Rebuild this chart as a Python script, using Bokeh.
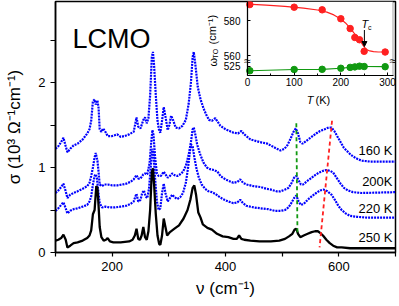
from bokeh.plotting import figure
from bokeh.models import (Range1d, LinearAxis, FixedTicker, BoxAnnotation, Arrow,
                          NormalHead, GlobalInlineStyleSheet)
from bokeh.core.properties import value
from bokeh.embed import file_html
from bokeh.resources import INLINE

FONT = "Liberation Sans"

# ---------------- main spectra data ----------------
nu_160 = [100,105,110,114,118,121,126,132,139,148,156,160,163,166,169,171,174,176,178,181,184,188,192,200,209,215,222,230,238,243,246,250,255,258,261,264,267,270,272,274,277,280,283,285,288,291,294,298,301,304,308,312,318,324,330,335,339,342,344,347,351,356,361,366,371,376,382,387,391,400,414,422,428,433,444,460,474,485,497,504,509,515,520,524,528,532,536,542,550,560,567,575,582,587,592,597,603,609,615,621,630,640,655,700]
s_160 = [1.22,1.25,1.30,1.35,1.25,1.18,1.22,1.26,1.28,1.33,1.40,1.45,1.55,1.78,1.80,1.74,1.79,1.70,1.45,1.42,1.46,1.42,1.37,1.37,1.39,1.36,1.37,1.39,1.42,1.59,1.48,1.46,1.56,1.59,1.52,1.58,1.85,2.30,2.36,2.20,1.85,1.55,1.43,1.41,1.55,1.71,1.60,1.44,1.50,1.61,1.55,1.47,1.46,1.49,1.56,1.75,2.00,2.30,2.36,2.20,1.95,1.80,1.70,1.62,1.56,1.55,1.58,1.53,1.49,1.45,1.41,1.40,1.43,1.39,1.33,1.30,1.28,1.24,1.20,1.22,1.26,1.34,1.42,1.46,1.40,1.30,1.28,1.31,1.35,1.40,1.43,1.45,1.47,1.47,1.43,1.37,1.30,1.23,1.19,1.15,1.11,1.08,1.07,1.07]

nu_200 = [100,105,110,114,118,121,126,132,139,148,156,160,163,166,169,171,174,176,178,182,186,192,200,209,218,225,232,238,243,246,250,255,258,262,266,269,271,273,276,279,282,286,291,295,298,302,306,310,315,320,325,330,335,339,342,344,347,350,355,361,367,373,380,386,391,400,410,414,421,426,431,437,450,462,472,480,490,497,505,511,516,521,525,529,533,537,544,550,558,565,572,578,585,590,596,603,609,616,625,640,700]
s_200 = [0.70,0.73,0.77,0.81,0.72,0.64,0.68,0.70,0.72,0.75,0.78,0.82,0.90,1.00,1.12,1.17,1.08,0.95,0.80,0.78,0.80,0.80,0.79,0.79,0.80,0.81,0.83,0.86,0.91,0.87,0.87,0.92,0.93,0.92,1.05,1.30,1.44,1.38,1.10,0.93,0.90,0.90,0.95,0.91,0.88,0.90,0.93,0.91,0.90,0.92,0.95,1.02,1.15,1.30,1.45,1.47,1.38,1.27,1.16,1.06,1.00,0.98,0.97,0.95,0.90,0.86,0.83,0.82,0.83,0.86,0.82,0.80,0.78,0.77,0.75,0.74,0.72,0.72,0.74,0.76,0.81,0.88,0.90,0.85,0.80,0.80,0.84,0.87,0.91,0.94,0.96,0.97,0.96,0.94,0.88,0.81,0.76,0.73,0.71,0.70,0.71]

nu_220 = [100,105,110,114,118,121,126,132,139,148,156,160,163,166,169,171,173,175,178,182,188,195,205,215,225,232,238,241,243,246,250,253,256,259,262,265,268,271,273,276,279,282,285,288,291,294,298,302,306,310,315,320,325,330,334,337,339,342,345,349,353,358,364,370,376,382,388,395,405,414,421,426,431,437,450,462,475,487,497,505,511,516,521,525,529,533,538,545,552,560,567,573,580,587,593,599,605,612,620,632,650,700]
s_220 = [0.49,0.52,0.56,0.59,0.52,0.46,0.49,0.51,0.52,0.54,0.56,0.60,0.66,0.80,0.90,0.92,0.88,0.75,0.58,0.53,0.54,0.53,0.53,0.54,0.55,0.57,0.60,0.66,0.69,0.60,0.62,0.70,0.73,0.66,0.64,0.75,1.00,1.22,1.15,0.85,0.60,0.50,0.52,0.70,0.81,0.70,0.60,0.64,0.68,0.65,0.63,0.65,0.70,0.82,1.00,1.18,1.27,1.25,1.12,0.98,0.88,0.80,0.75,0.72,0.71,0.69,0.66,0.63,0.60,0.58,0.59,0.62,0.58,0.55,0.53,0.52,0.51,0.49,0.49,0.50,0.53,0.58,0.64,0.67,0.60,0.56,0.57,0.62,0.66,0.70,0.73,0.74,0.72,0.68,0.62,0.55,0.50,0.46,0.43,0.42,0.41,0.41]

nu_250 = [100,105,110,114,118,121,126,132,139,148,156,160,163,166,169,172,174,176,178,181,185,189,192,196,202,215,230,236,240,243,246,249,252,255,258,261,264,267,270,272,274,277,280,283,285,288,291,294,297,302,310,318,326,333,338,342,345,348,352,356,360,368,376,385,395,405,414,420,424,428,433,444,460,480,495,505,512,518,522,525,528,532,538,545,552,558,563,567,572,578,584,590,597,605,620,650,700]
s_250 = [0.14,0.15,0.17,0.21,0.15,0.06,0.08,0.11,0.12,0.14,0.17,0.20,0.26,0.45,0.50,0.78,0.76,0.55,0.30,0.18,0.14,0.15,0.17,0.13,0.12,0.12,0.13,0.15,0.20,0.28,0.16,0.15,0.20,0.30,0.18,0.15,0.25,0.50,0.95,0.99,0.80,0.45,0.20,0.10,0.09,0.20,0.40,0.30,0.20,0.24,0.28,0.32,0.40,0.50,0.62,0.76,0.79,0.68,0.47,0.41,0.33,0.29,0.27,0.22,0.19,0.18,0.16,0.16,0.20,0.16,0.15,0.14,0.13,0.13,0.14,0.16,0.19,0.22,0.27,0.28,0.22,0.18,0.20,0.22,0.24,0.25,0.25,0.23,0.20,0.15,0.11,0.08,0.06,0.06,0.05,0.05,0.05]

green_nu = [525, 527]
green_s = [1.52, 0.22]
red_nu = [588, 566]
red_s = [1.55, 0.06]

temp_labels = ["160 K", "200K", "220 K", "250 K"]
temp_label_s = [1.20, 0.835, 0.518, 0.176]

# ---------------- inset data ----------------
T_pts = [5, 100, 160, 200, 220, 230, 240, 250, 295]
w_red = [589.1, 587.6, 586.1, 581.0, 575.4, 570.3, 569.0, 562.4, 562.0]
w_grn = [522.3, 523.0, 523.1, 523.7, 524.2, 524.5, 524.9, 524.7, 524.6]
T_fit = [0, 40, 80, 120, 150, 170, 185, 200, 210, 220, 228, 235, 242, 248, 255, 262, 270, 280, 295]
w_fit = [589.4, 588.8, 588.1, 587.1, 586.0, 584.8, 583.2, 580.8, 578.6, 575.6, 572.9, 570.6, 568.2, 565.6, 563.4, 562.6, 562.2, 562.0, 562.0]
LOW_SHIFT = 29.0   # broken axis: lower segment (525 band) shifted up

# ---------------- layout (pixels) ----------------
W, H = 399, 306
BL, BR, BT, BB = 55, 4, 1, 54
FW, FH = W - BL - BR, H - BT - BB
X0, X1 = 100, 700
PX_PER_S = 85.0
Y1 = FH / PX_PER_S

p = figure(width=W, height=H, x_range=Range1d(X0, X1), y_range=Range1d(0, Y1),
           output_backend="svg", toolbar_location=None,
           min_border_left=BL, min_border_right=BR, min_border_top=BT, min_border_bottom=BB)
p.stylesheets = [GlobalInlineStyleSheet(css="html, body {margin:0 !important; padding:0;}")]
p.background_fill_color = "white"
p.border_fill_color = "white"
p.outline_line_color = "black"
p.outline_line_width = 1.5
p.xgrid.visible = False
p.ygrid.visible = False

xa = p.xaxis[0]
xa.ticker = FixedTicker(ticks=[200, 400, 600], minor_ticks=[100, 300, 500, 700])
xa.axis_label = "ν (cm⁻¹)"
ya = p.yaxis[0]
ya.ticker = FixedTicker(ticks=[0, 1, 2], minor_ticks=[0.5, 1.5, 2.5])
ya.axis_label = "σ (10³ Ω⁻¹cm⁻¹)"
for ax in (xa, ya):
    ax.axis_line_width = 1.5
    ax.major_tick_line_width = 1.2
    ax.minor_tick_line_width = 1.2
    ax.major_tick_in = 0
    ax.minor_tick_in = 0
    ax.major_label_text_font = FONT
    ax.major_label_text_font_size = "13px"
    ax.major_label_text_color = "black"
    ax.axis_label_text_font = FONT
    ax.axis_label_text_font_size = "17px"
    ax.axis_label_text_font_style = "normal"
    ax.axis_label_text_color = "black"
xa.major_tick_out = 4
xa.minor_tick_out = 4
xa.major_label_standoff = 5
xa.axis_label_standoff = 5
ya.major_tick_out = 5
ya.minor_tick_out = 5
ya.major_label_standoff = 5
ya.axis_label_standoff = 11

# spectra
for nu, s in [(nu_160, s_160), (nu_200, s_200), (nu_220, s_220)]:
    p.line(nu, s, line_color="#0000ff", line_width=2.2, line_dash="2 1")
p.line(nu_250, s_250, line_color="black", line_width=2.3)
p.line(green_nu, green_s, line_color="#119911", line_width=1.8, line_dash="4 3")
p.line(red_nu, red_s, line_color="#ff2020", line_width=1.8, line_dash="4 3")

def px2nu(px):
    return X0 + (px - BL) * (X1 - X0) / FW

def py2s(py):
    return (BT + FH - py) / PX_PER_S

p.text(x=[px2nu(392)] * 4, y=temp_label_s, text=temp_labels, text_align="right",
       text_baseline="middle", text_font=value(FONT), text_font_size="13px", text_color="black")
p.text(x=[px2nu(72)], y=[py2s(38)], text=["LCMO"], text_align="left", text_baseline="alphabetic",
       text_font=value(FONT), text_font_size="27px", text_color="black")

# ---------------- inset ----------------
IX0, IXS = 247.0, 140.0 / 300.0      # px of T=0, px per K
IY580, IYS = 20.0, 1.75              # px of 580 cm-1, px per cm-1
def ipx2T(px):
    return (px - IX0) / IXS
def ipy2w(py):
    return 580.0 - (py - IY580) / IYS

p.extra_x_ranges = {"T": Range1d(ipx2T(BL), ipx2T(BL + FW))}
p.extra_y_ranges = {"W": Range1d(ipy2w(BT + FH), ipy2w(BT))}
T_right = ipx2T(392.5)
W_bot = ipy2w(75)
W_top = ipy2w(BT)

p.add_layout(BoxAnnotation(left=0, right=T_right, bottom=W_bot, top=W_top,
                           x_range_name="T", y_range_name="W",
                           fill_color="white", fill_alpha=1.0, line_color="black", line_width=1.2,
                           level="underlay"))

w_grn_plot = [w + LOW_SHIFT for w in w_grn]
p.line(T_fit, w_fit, x_range_name="T", y_range_name="W", line_color="#ff2020", line_width=1.2)
p.scatter(T_pts, w_red, x_range_name="T", y_range_name="W", size=6.5, marker="circle",
          fill_color="#ff2020", line_color="#ff2020")
p.line(T_pts, w_grn_plot, x_range_name="T", y_range_name="W", line_color="#119911", line_width=1.2)
p.segment(T_pts, [w - 1.3 for w in w_grn_plot], T_pts, [w + 1.3 for w in w_grn_plot],
          x_range_name="T", y_range_name="W", line_color="#119911", line_width=1)
p.scatter(T_pts, w_grn_plot, x_range_name="T", y_range_name="W", size=6.5, marker="circle",
          fill_color="#119911", line_color="#119911")

axT = LinearAxis(x_range_name="T", fixed_location=py2s(75), bounds=(0, T_right),
                 ticker=FixedTicker(ticks=[0, 100, 200, 300], minor_ticks=[50, 150, 250]))
axW = LinearAxis(y_range_name="W", fixed_location=px2nu(IX0), bounds=(W_bot, W_top),
                 ticker=FixedTicker(ticks=[554, 560, 580], minor_ticks=[]),
                 major_label_overrides={554: "525"})
for ax in (axT, axW):
    ax.major_tick_in = 3
    ax.major_tick_out = 0
    ax.minor_tick_in = 2
    ax.minor_tick_out = 0
    ax.axis_line_width = 1.2
    ax.major_label_text_font = FONT
    ax.major_label_text_font_size = "10px"
    ax.major_label_text_color = "black"
    ax.axis_label = None
axT.major_label_standoff = 2
axW.major_label_standoff = 7
p.add_layout(axT, "below")
p.add_layout(axW, "left")

# inset texts
p.text(x=[ipx2T(313)], y=[ipy2w(99)], text=["T"], x_range_name="T", y_range_name="W",
       text_align="right", text_baseline="middle", text_font=value(FONT), text_font_size="11px",
       text_font_style="italic", text_color="black")
p.text(x=[ipx2T(315)], y=[ipy2w(99)], text=["(K)"], x_range_name="T", y_range_name="W",
       text_align="left", text_baseline="middle", text_font=value(FONT), text_font_size="11px",
       text_color="black")
p.text(x=[ipx2T(212)], y=[ipy2w(66)], text=["ω"], x_range_name="T", y_range_name="W", angle=1.5708,
       text_align="left", text_baseline="middle", text_font=value(FONT), text_font_size="11px",
       text_color="black")
p.text(x=[ipx2T(215)], y=[ipy2w(58)], text=["TO"], x_range_name="T", y_range_name="W", angle=1.5708,
       text_align="left", text_baseline="middle", text_font=value(FONT), text_font_size="7px",
       text_color="black")
p.text(x=[ipx2T(212)], y=[ipy2w(44)], text=["(cm⁻¹)"], x_range_name="T", y_range_name="W", angle=1.5708,
       text_align="left", text_baseline="middle", text_font=value(FONT), text_font_size="11px",
       text_color="black")
p.text(x=[ipx2T(361)], y=[ipy2w(23)], text=["T"], x_range_name="T", y_range_name="W",
       text_align="left", text_baseline="middle", text_font=value(FONT), text_font_size="11px",
       text_font_style="italic", text_color="black")
p.text(x=[ipx2T(367.5)], y=[ipy2w(27)], text=["c"], x_range_name="T", y_range_name="W",
       text_align="left", text_baseline="middle", text_font=value(FONT), text_font_size="7px",
       text_color="black")
p.add_layout(Arrow(x_start=250.5, y_start=ipy2w(29.5), x_end=250.5, y_end=ipy2w(46),
                   x_range_name="T", y_range_name="W", line_color="black", line_width=1,
                   end=NormalHead(size=5, fill_color="black", line_color="black")))
p.text(x=[0, T_right], y=[ipy2w(60)] * 2, text=["≈", "≈"], x_range_name="T", y_range_name="W",
       text_align="center", text_baseline="middle", text_font=value(FONT), text_font_size="12px",
       text_color="black")

open("out.html", "w").write(file_html(p, INLINE))
